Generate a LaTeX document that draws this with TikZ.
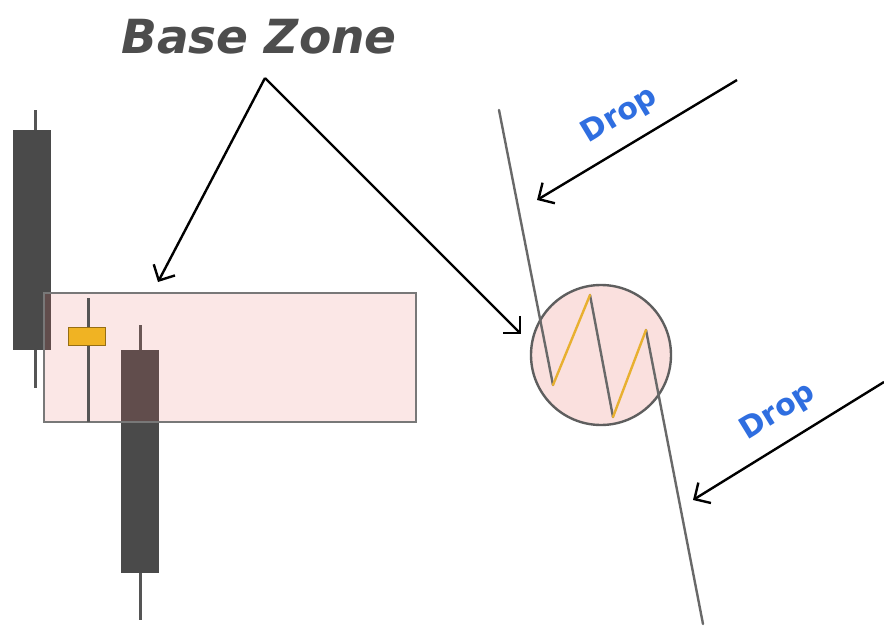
\documentclass[tikz,border=0pt]{standalone}
\usepackage{fontspec}
\setmainfont{DejaVu Sans}
\usetikzlibrary{arrows.meta}
\definecolor{candle}{RGB}{74,74,74}
\definecolor{wickc}{RGB}{85,85,85}
\definecolor{zonefill}{RGB}{230,100,90}
\definecolor{zoneline}{RGB}{120,120,120}
\definecolor{gold}{RGB}{240,179,35}
\definecolor{golddark}{RGB}{150,110,20}
\definecolor{zig}{RGB}{232,176,48}
\definecolor{pathgray}{RGB}{105,105,105}
\definecolor{dropblue}{RGB}{47,110,224}
\definecolor{titlegray}{RGB}{77,77,77}
\tikzset{
  wick/.style={draw=wickc, line width=3pt},
  body/.style={fill=candle, draw=none},
  pointer/.style={draw=black, line width=2.4pt, -{Straight Barb[length=12pt,width=24pt,line width=2.4pt]}},
  pricepath/.style={draw=pathgray, line width=2.4pt, line cap=round, line join=round},
  uppath/.style={draw=zig, line width=2.4pt, line cap=round},
  droplabel/.style={text=dropblue, font=\bfseries\fontsize{30}{30}\selectfont, inner sep=0pt},
}
\begin{document}
\begin{tikzpicture}[x=1pt,y=-1pt]
\useasboundingbox (0,0) rectangle (884,626);
\fill[white] (0,0) rectangle (884,626);
% candle 1
\draw[wick] (35,110) -- (35,388);
\path[body] (13,130) rectangle (51,350);
% candle 3
\draw[wick] (140,325) -- (140,620);
\path[body] (121,350) rectangle (159,573);
% zone
\node[draw=zoneline, line width=2pt, fill=zonefill, fill opacity=0.15, minimum width=372pt, minimum height=129pt, inner sep=0pt] (zone) at (230,357.5) {};
% small candle
\draw[wick] (88,298) -- (88,422);
\node[fill=gold, draw=golddark, line width=1.5pt, minimum width=37pt, minimum height=18pt, inner sep=0pt] (small) at (87,336.5) {};
% circle
\node[circle, draw=pathgray!90!black, line width=2.4pt, fill=zonefill, fill opacity=0.2, draw opacity=1, minimum size=140pt, inner sep=0pt] (circ) at (601,355) {};
% price path
\coordinate (p0) at (499,110);
\coordinate (b1) at (553,385);
\coordinate (t1) at (590,295);
\coordinate (b2) at (613,417);
\coordinate (t2) at (646,330);
\coordinate (p1) at (703,624);
\draw[pricepath] (p0) -- (b1);
\draw[pricepath] (t1) -- (b2);
\draw[pricepath] (t2) -- (p1);
\draw[uppath] (b1) -- (t1);
\draw[uppath] (b2) -- (t2);
% title
\node[text=titlegray, font=\bfseries\itshape\fontsize{47}{47}\selectfont, inner sep=0pt] (title) at (259,37) {Base Zone};
\coordinate (apex) at (265,78);
\coordinate (zend) at (158,282);
\coordinate (cend) at (521,334);
\draw[pointer] (apex) -- (zend);
\draw[pointer] (apex) -- (cend);
% drops
\coordinate (d1s) at (737,80);
\coordinate (d1e) at (537,200);
\draw[pointer] (d1s) -- (d1e);
\node[droplabel, rotate=31] (drop1) at (620,116) {Drop};
\coordinate (d2s) at (884,382);
\coordinate (d2e) at (693,500);
\draw[pointer] (d2s) -- (d2e);
\node[droplabel, rotate=31.5] (drop2) at (778,412) {Drop};
\end{tikzpicture}
\end{document}
